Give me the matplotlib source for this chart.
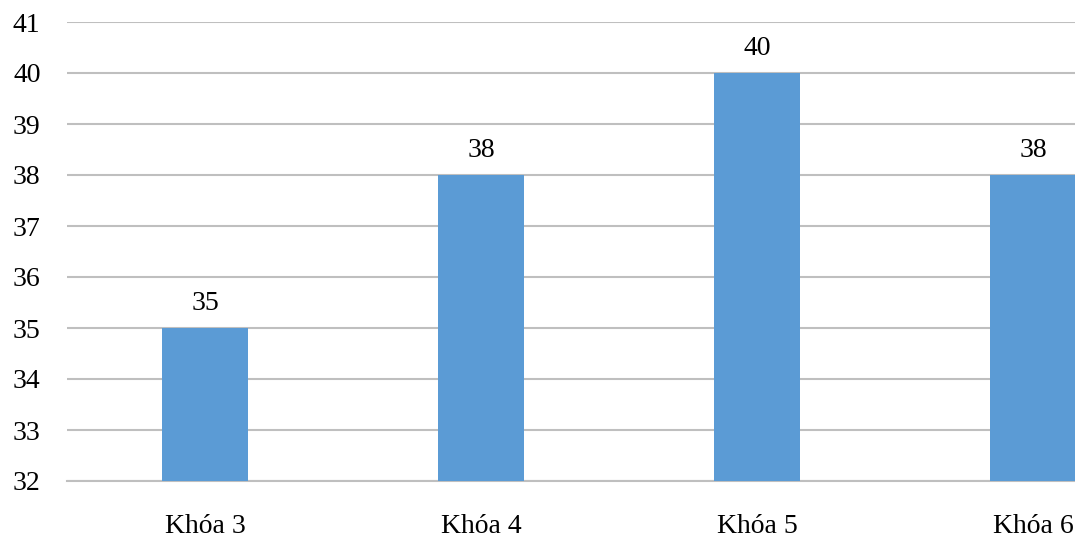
import numpy as np
import matplotlib.pyplot as plt

categories = ['Khóa 3', 'Khóa 4', 'Khóa 5', 'Khóa 6']
values = [35, 38, 40, 38]
yticks = [32, 33, 34, 35, 36, 37, 38, 39, 40, 41]

plt.rcParams['font.family'] = ['Liberation Serif', 'DejaVu Serif']

fig = plt.figure(figsize=(10.75, 5.36), dpi=100)
# axes runs past the right edge, as in the cropped original
ax = fig.add_axes([67 / 1075, 55 / 536, 1104 / 1075, 459 / 536])

x = np.arange(len(categories))
ax.bar(x, values, width=0.315, color='#5B9BD5', zorder=3)
for xi, v in zip(x, values):
    ax.text(xi, v + 0.36, str(v), ha='center', va='baseline', fontsize=20, color='#000000')

ax.set_xlim(-0.5, 3.5)
ax.set_ylim(32, 41)
ax.set_yticks(yticks)
ax.set_xticks(x)
ax.set_xticklabels(categories)
ax.grid(axis='y', color='#BFBFBF', linewidth=1.5, zorder=0)
for s in ['top', 'right', 'left']:
    ax.spines[s].set_visible(False)
ax.spines['bottom'].set_color('#BFBFBF')
ax.spines['bottom'].set_linewidth(1.5)
ax.tick_params(axis='y', length=0, labelsize=20, pad=19)
ax.tick_params(axis='x', length=0, labelsize=20, pad=24)

fig.savefig('out.png', dpi=100)
